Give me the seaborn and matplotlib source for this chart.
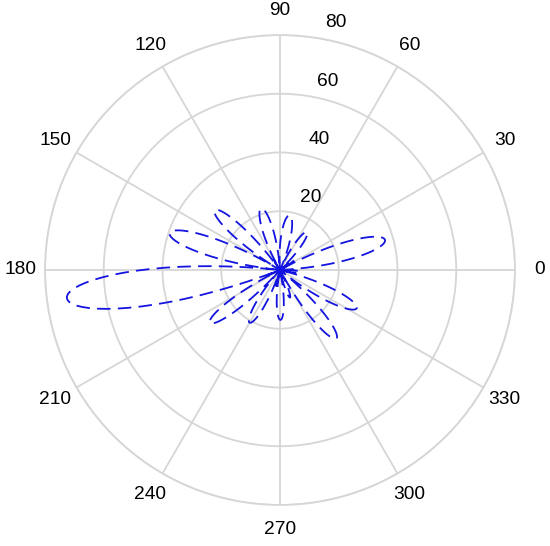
import numpy as np
import matplotlib
matplotlib.use("Agg")
import matplotlib.pyplot as plt
import matplotlib.transforms as mtransforms
import seaborn as sns

# Pattern: lobe boundaries (nulls, degrees) and lobe peaks
null_deg = [3, 29, 43, 66, 94, 120, 126, 149, 174, 201, 206, 228, 252, 259, 282, 298, 321, 346, 363]
peak_r = [37.2, 6, 15.9, 18.9, 21.9, 5, 30.1, 39.6, 73.2, 5, 29.9, 20.7, 6, 17, 10, 30.2, 29.2, 7]

theta_ticks = [0, 30, 60, 90, 120, 150, 180, 210, 240, 270, 300, 330]
r_ticks = [20, 40, 60, 80]
r_max = 80

GRID = "#d6d6d6"
LINE = "#1414e0"

sns.set_theme(style="white")
plt.rcParams["font.family"] = ["Liberation Sans", "DejaVu Sans"]

fig = plt.figure(figsize=(5.5, 5.46), dpi=100)
ax = fig.add_axes([0.0818, 0.0751, 0.8545, 0.8608], projection="polar")

# each lobe drawn as a petal between its two nulls
th, rr = [], []
for a, b, p in zip(null_deg[:-1], null_deg[1:], peak_r):
    t = np.linspace(0, 1, 40)
    th.extend(np.deg2rad(a + (b - a) * t))
    rr.extend(p * np.sin(np.pi * t))
ax.plot(th, rr, color=LINE, lw=1.3, dashes=(7.5, 4))

ax.set_ylim(0, r_max)
ax.set_xticks(np.deg2rad(theta_ticks))
ax.set_xticklabels([str(t) for t in theta_ticks], fontsize=13.8, color="black")
ax.tick_params(axis="x", pad=4.5)
ax.set_yticks(r_ticks)
ax.set_yticklabels([])
ax.grid(True, color=GRID, lw=1.3)
ax.spines["polar"].set_color(GRID)
ax.spines["polar"].set_linewidth(1.3)

# radial labels sit a little off the 81.7 degree ray
off = mtransforms.ScaledTranslation(0.22, 0.145, fig.dpi_scale_trans)
for r in r_ticks:
    ax.text(np.deg2rad(81.7), r, str(r), transform=ax.transData + off,
            ha="center", va="center", fontsize=13.8, color="black")

fig.savefig("out.png", dpi=100)
